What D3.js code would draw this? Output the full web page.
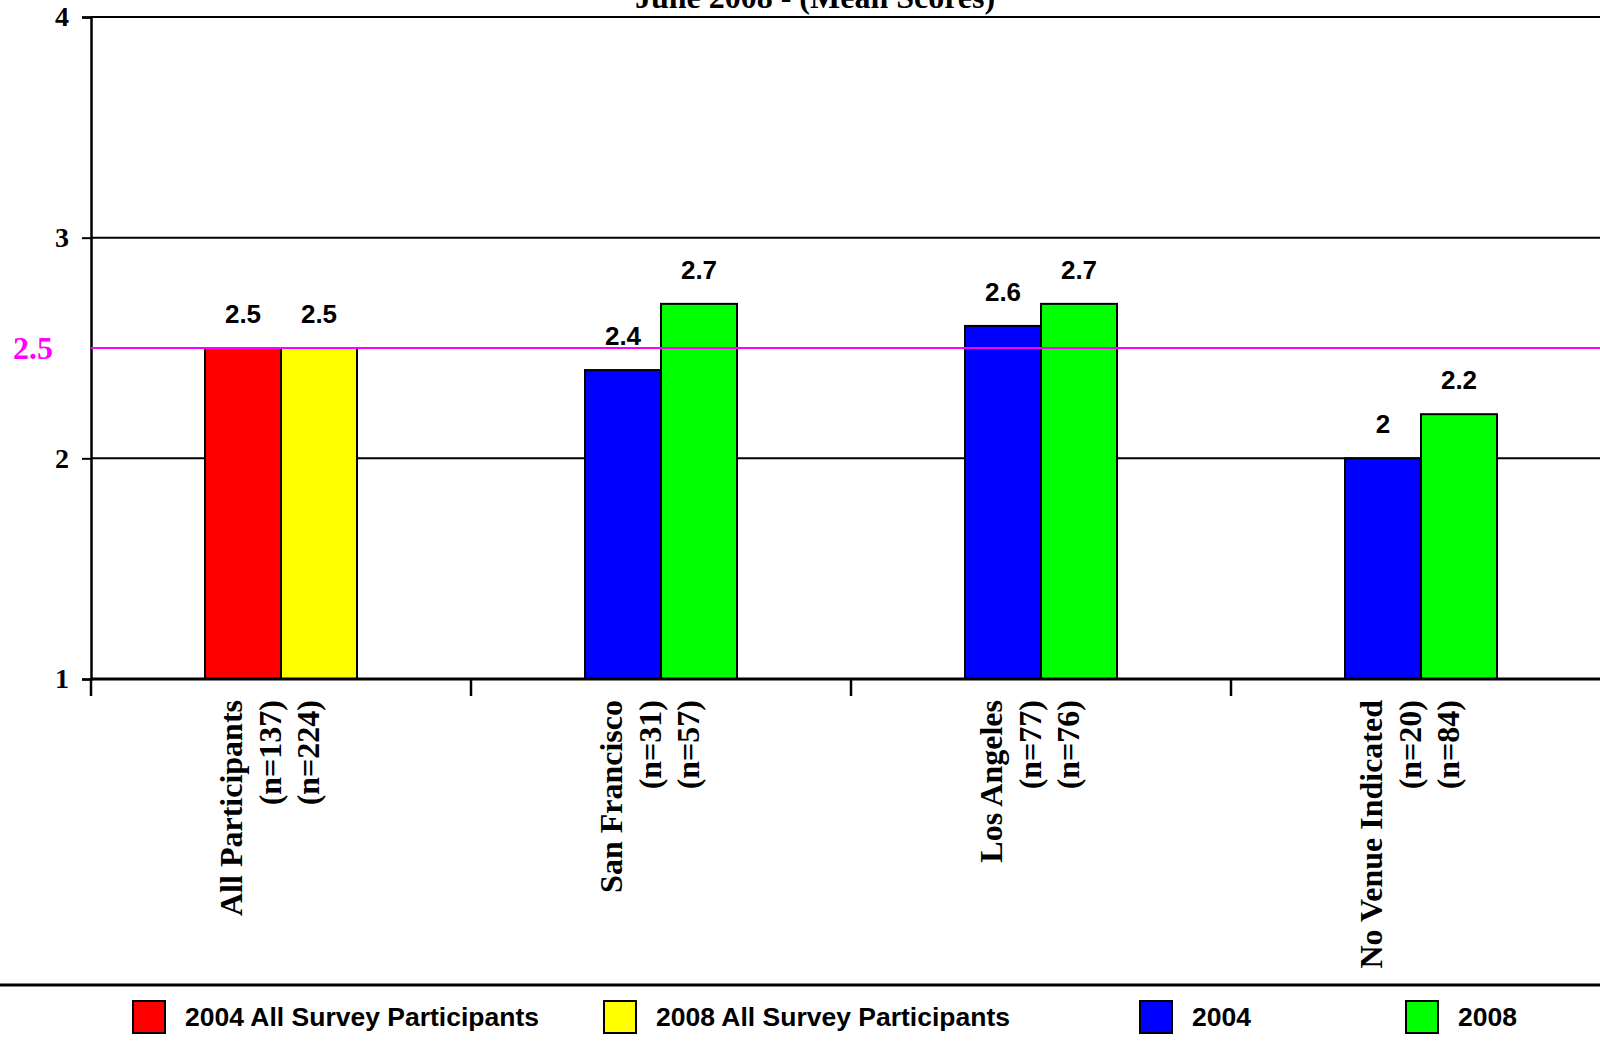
<!DOCTYPE html>
<html>
<head>
<meta charset="utf-8">
<script src="https://cdn.jsdelivr.net/npm/d3@7"></script>
<style>
  html, body { margin: 0; padding: 0; background: #fff; overflow: hidden; }
  svg { display: block; }
</style>
</head>
<body>
<svg id="chart" width="1600" height="1045"></svg>
<script>
// Mean scores by venue, 2004 vs 2008
const categories = ["All Participants", "San Francisco", "Los Angeles", "No Venue Indicated"];
const counts2004 = ["(n=137)", "(n=31)", "(n=77)", "(n=20)"];
const counts2008 = ["(n=224)", "(n=57)", "(n=76)", "(n=84)"];
const values2004 = [2.5, 2.4, 2.6, 2.0];
const values2008 = [2.5, 2.7, 2.7, 2.2];
const colors2004 = ["#FF0000", "#0000FF", "#0000FF", "#0000FF"];
const colors2008 = ["#FFFF00", "#00FF00", "#00FF00", "#00FF00"];
const yTicks = [1, 2, 3, 4];
const referenceValue = 2.5;
const legendLabels = ["2004 All Survey Participants", "2008 All Survey Participants", "2004", "2008"];
const legendColors = ["#FF0000", "#FFFF00", "#0000FF", "#00FF00"];
const legendX = [133, 604, 1140, 1406];
const titleText = "June 2008 - (Mean Scores)";

const serif = "'Liberation Serif', 'Times New Roman', serif";
const sans = "'Liberation Sans', Arial, sans-serif";

const svg = d3.select("#chart");

const x = d3.scaleBand().domain(categories).range([91, 1611]);
const sub = d3.scaleBand().domain(["2004", "2008"]).range([0, 152]);
const groupOffset = (x.bandwidth() - 152) / 2;
const y = d3.scaleLinear().domain([1, 4]).range([679, 17]);

// title (partly above the page edge)
svg.append("text")
  .attr("x", 815).attr("y", 8)
  .attr("text-anchor", "middle")
  .style("font-family", serif).style("font-weight", "bold").style("font-size", "32px")
  .text(titleText);

// horizontal gridlines
svg.append("g").selectAll("line")
  .data(yTicks.filter(d => d > 1))
  .join("line")
  .attr("x1", 91).attr("x2", 1600)
  .attr("y1", d => y(d)).attr("y2", d => y(d))
  .attr("stroke", "#000").attr("stroke-width", 2);

// y axis
const yAxis = svg.append("g")
  .attr("transform", "translate(91,0)")
  .call(d3.axisLeft(y).tickValues(yTicks).tickFormat(d3.format("d")).tickSize(9).tickPadding(13));
yAxis.select(".domain").attr("stroke", "#000").attr("stroke-width", 2.5);
yAxis.selectAll(".tick line").attr("stroke", "#000").attr("stroke-width", 2);
yAxis.selectAll(".tick text")
  .style("font-family", serif).style("font-weight", "bold").style("font-size", "28px")
  .attr("fill", "#000");

// bars
const groups = svg.append("g").selectAll("g")
  .data(categories)
  .join("g")
  .attr("transform", d => `translate(${x(d) + groupOffset},0)`);

groups.append("rect")
  .attr("x", sub("2004"))
  .attr("width", sub.bandwidth())
  .attr("y", (d, i) => y(values2004[i]))
  .attr("height", (d, i) => y(1) - y(values2004[i]))
  .attr("fill", (d, i) => colors2004[i])
  .attr("stroke", "#000").attr("stroke-width", 2);

groups.append("rect")
  .attr("x", sub("2008"))
  .attr("width", sub.bandwidth())
  .attr("y", (d, i) => y(values2008[i]))
  .attr("height", (d, i) => y(1) - y(values2008[i]))
  .attr("fill", (d, i) => colors2008[i])
  .attr("stroke", "#000").attr("stroke-width", 2);

// value labels
const fmt = v => d3.format("~g")(v);
groups.append("text")
  .attr("x", sub("2004") + sub.bandwidth() / 2)
  .attr("y", (d, i) => y(values2004[i]) - 25)
  .attr("text-anchor", "middle")
  .style("font-family", sans).style("font-weight", "bold").style("font-size", "26px")
  .text((d, i) => fmt(values2004[i]));
groups.append("text")
  .attr("x", sub("2008") + sub.bandwidth() / 2)
  .attr("y", (d, i) => y(values2008[i]) - 25)
  .attr("text-anchor", "middle")
  .style("font-family", sans).style("font-weight", "bold").style("font-size", "26px")
  .text((d, i) => fmt(values2008[i]));

// x axis baseline and ticks at category boundaries
svg.append("line")
  .attr("x1", 91).attr("x2", 1600)
  .attr("y1", y(1)).attr("y2", y(1))
  .attr("stroke", "#000").attr("stroke-width", 3);
svg.append("g").selectAll("line")
  .data(categories)
  .join("line")
  .attr("x1", d => x(d)).attr("x2", d => x(d))
  .attr("y1", y(1)).attr("y2", y(1) + 17)
  .attr("stroke", "#000").attr("stroke-width", 2.5);

// rotated category labels
const catLabels = svg.append("g").selectAll("g")
  .data(categories)
  .join("g")
  .attr("transform", d => `translate(${x(d) + x.bandwidth() / 2},700) rotate(-90)`);
const lineOffsets = [-39, 0, 38];
catLabels.each(function (d, i) {
  const lines = [d, counts2004[i], counts2008[i]];
  d3.select(this).selectAll("text")
    .data(lines)
    .join("text")
    .attr("x", 0)
    .attr("y", (t, j) => lineOffsets[j])
    .attr("text-anchor", "end")
    .style("font-family", serif).style("font-weight", "bold").style("font-size", "32px")
    .text(t => t);
});

// reference line at the overall mean
svg.append("line")
  .attr("x1", 91).attr("x2", 1600)
  .attr("y1", y(referenceValue)).attr("y2", y(referenceValue))
  .attr("stroke", "#FF00FF").attr("stroke-width", 2);
svg.append("text")
  .attr("x", 13).attr("y", y(referenceValue) + 11)
  .style("font-family", serif).style("font-weight", "bold").style("font-size", "32px")
  .attr("fill", "#FF00FF")
  .text(fmt(referenceValue));

// separator above the legend
svg.append("line")
  .attr("x1", 0).attr("x2", 1600)
  .attr("y1", 985).attr("y2", 985)
  .attr("stroke", "#000").attr("stroke-width", 3);

// legend
const legend = svg.append("g").selectAll("g")
  .data(legendLabels)
  .join("g")
  .attr("transform", (d, i) => `translate(${legendX[i]},1001)`);
legend.append("rect")
  .attr("width", 32).attr("height", 32)
  .attr("fill", (d, i) => legendColors[i])
  .attr("stroke", "#000").attr("stroke-width", 2);
legend.append("text")
  .attr("x", 52).attr("y", 25)
  .style("font-family", sans).style("font-weight", "bold").style("font-size", "26.5px")
  .text(d => d);
</script>
</body>
</html>
